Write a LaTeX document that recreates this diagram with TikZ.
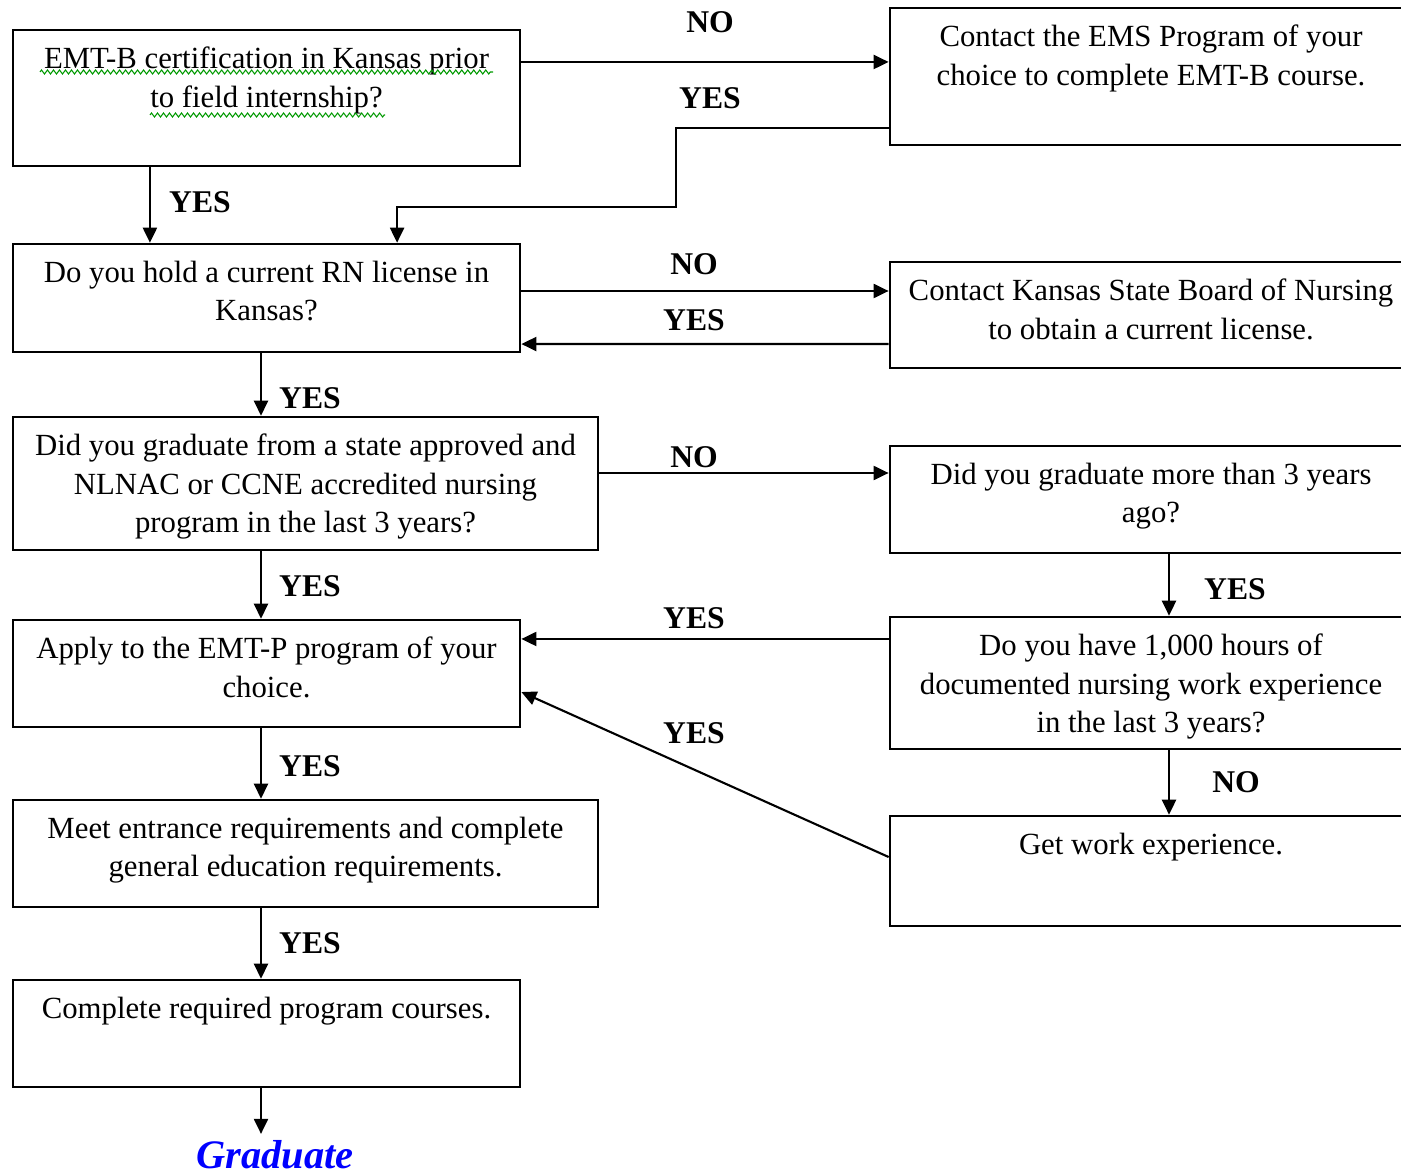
\documentclass[tikz,border=0pt]{standalone}
\usepackage{fontspec}
\setmainfont{Liberation Serif}
\usetikzlibrary{positioning,arrows.meta,decorations.pathmorphing}
\tikzset{every picture/.style={line width=0.6pt}}

\begin{document}
\begin{tikzpicture}[x=0.01cm, y=-0.01cm,
    box/.style={draw, rectangle, line width=0.7pt, inner sep=0pt},
    boxtext/.style={anchor=north, align=center, inner sep=0pt, font=\fontsize{8.75}{11}\selectfont},
    answer/.style={font=\fontsize{9}{10}\selectfont\bfseries, inner sep=0pt},
    arr/.style={-{Triangle[length=1.5mm, width=1.4mm]}},
    squig/.style={green!60!black, line width=0.3pt, decorate, decoration={zigzag, amplitude=0.2mm, segment length=0.6mm}}]

    \useasboundingbox (0,0) rectangle (1401,1173);

    % EMT-B question
    \node[box, minimum width=5.07cm, minimum height=1.36cm] (cert) at (266.5,98) {};
    \node[boxtext] (certtext) at ([yshift=-1.7mm]cert.north) {EMT-B certification in Kansas prior\\to field internship?};
    \draw[squig] (40,72) -- (493,72);
    \draw[squig] (150,115) -- (385,115);

    % EMS program
    \node[box, minimum width=5.22cm, minimum height=1.37cm] (ems) at (1151,76.5) {};
    \node[boxtext] (emstext) at ([yshift=-1.7mm]ems.north) {Contact the EMS Program of your\\choice to complete EMT-B course.};

    % RN license
    \node[box, minimum width=5.07cm, minimum height=1.08cm] (rn) at (266.5,298) {};
    \node[boxtext] (rntext) at ([yshift=-1.7mm]rn.north) {Do you hold a current RN license in\\Kansas?};

    % State board
    \node[box, minimum width=5.22cm, minimum height=1.06cm] (board) at (1151,315) {};
    \node[boxtext] (boardtext) at ([yshift=-1.7mm]board.north) {Contact Kansas State Board of Nursing\\to obtain a current license.};

    % Nursing program
    \node[box, minimum width=5.85cm, minimum height=1.33cm] (nursing) at (305.5,483.5) {};
    \node[boxtext] (nursingtext) at ([yshift=-1.7mm]nursing.north) {Did you graduate from a state approved and\\NLNAC or CCNE accredited nursing\\program in the last 3 years?};

    % Graduated earlier
    \node[box, minimum width=5.22cm, minimum height=1.07cm] (earlier) at (1151,499.5) {};
    \node[boxtext] (earliertext) at ([yshift=-1.7mm]earlier.north) {Did you graduate more than 3 years\\ago?};

    % Apply
    \node[box, minimum width=5.07cm, minimum height=1.07cm] (apply) at (266.5,673.5) {};
    \node[boxtext] (applytext) at ([yshift=-1.7mm]apply.north) {Apply to the EMT-P program of your\\choice.};

    % Work hours
    \node[box, minimum width=5.22cm, minimum height=1.32cm] (hours) at (1151,683) {};
    \node[boxtext] (hourstext) at ([yshift=-1.7mm]hours.north) {Do you have 1,000 hours of\\documented nursing work experience\\in the last 3 years?};

    % Entrance requirements
    \node[box, minimum width=5.85cm, minimum height=1.07cm] (meet) at (305.5,853.5) {};
    \node[boxtext] (meettext) at ([yshift=-1.7mm]meet.north) {Meet entrance requirements and complete\\general education requirements.};

    % Work experience
    \node[box, minimum width=5.22cm, minimum height=1.10cm] (work) at (1151,871) {};
    \node[boxtext] (worktext) at ([yshift=-1.7mm]work.north) {Get work experience.};

    % Program courses
    \node[box, minimum width=5.07cm, minimum height=1.07cm] (courses) at (266.5,1033.5) {};
    \node[boxtext] (coursestext) at ([yshift=-1.7mm]courses.north) {Complete required program courses.};

    % Graduate
    \node[font=\fontsize{11.5}{12}\selectfont\bfseries\itshape, text=blue, inner sep=0pt, anchor=base] (graduate) at (275,1168) {Graduate};

    % Connections
    \draw[arr] ([yshift=3.6mm]cert.east) coordinate (c1) -- (c1 -| ems.west);
    \draw[arr] ([yshift=-5.15mm]ems.west) -| (676,207) -| ([xshift=13.05mm]rn.north);
    \draw[arr] ([xshift=-11.65mm]cert.south) -- ([xshift=-11.65mm]rn.north);
    \draw[arr] ([yshift=0.7mm]rn.east) coordinate (c2) -- (c2 -| board.west);
    \draw[arr] ([yshift=-2.9mm]board.west) -- ([yshift=-4.6mm]rn.east);
    \draw[arr] ([xshift=-0.55mm]rn.south) coordinate (c3) -- (c3 |- nursing.north);
    \draw[arr] ([yshift=1.05mm]nursing.east) coordinate (c4) -- (c4 -| earlier.west);
    \draw[arr] (c3 |- nursing.south) -- (c3 |- apply.north);
    \draw[arr] ([xshift=1.8mm]earlier.south) coordinate (c5) -- (c5 |- hours.north);
    \draw[arr] ([yshift=4.4mm]hours.west) coordinate (c6) -- (c6 -| apply.east);
    \draw[arr] (c5 |- hours.south) -- (c5 |- work.north);
    \draw[arr] ([yshift=1.4mm]work.west) -- ([yshift=-1.85mm]apply.east);
    \draw[arr] (c3 |- apply.south) -- (c3 |- meet.north);
    \draw[arr] (c3 |- meet.south) -- (c3 |- courses.north);
    \draw[arr] (c3 |- courses.south) -- ([yshift=0.5mm]c3 |- graduate.north);

    % Answers
    \node[answer] (noEms) at (710,22) {NO};
    \node[answer] (yesEms) at (710,98) {YES};
    \node[answer] (yesCert) at (200,202) {YES};
    \node[answer] (noRn) at (694,264) {NO};
    \node[answer] (yesBoard) at (694,320) {YES};
    \node[answer] (yesRn) at (310,398) {YES};
    \node[answer] (noNursing) at (694,457) {NO};
    \node[answer] (yesNursing) at (310,586) {YES};
    \node[answer] (yesEarlier) at (1235,589) {YES};
    \node[answer] (yesHours) at (694,618) {YES};
    \node[answer] (yesWork) at (694,733) {YES};
    \node[answer] (noHours) at (1236,782) {NO};
    \node[answer] (yesApply) at (310,766) {YES};
    \node[answer] (yesMeet) at (310,943) {YES};
\end{tikzpicture}
\end{document}
